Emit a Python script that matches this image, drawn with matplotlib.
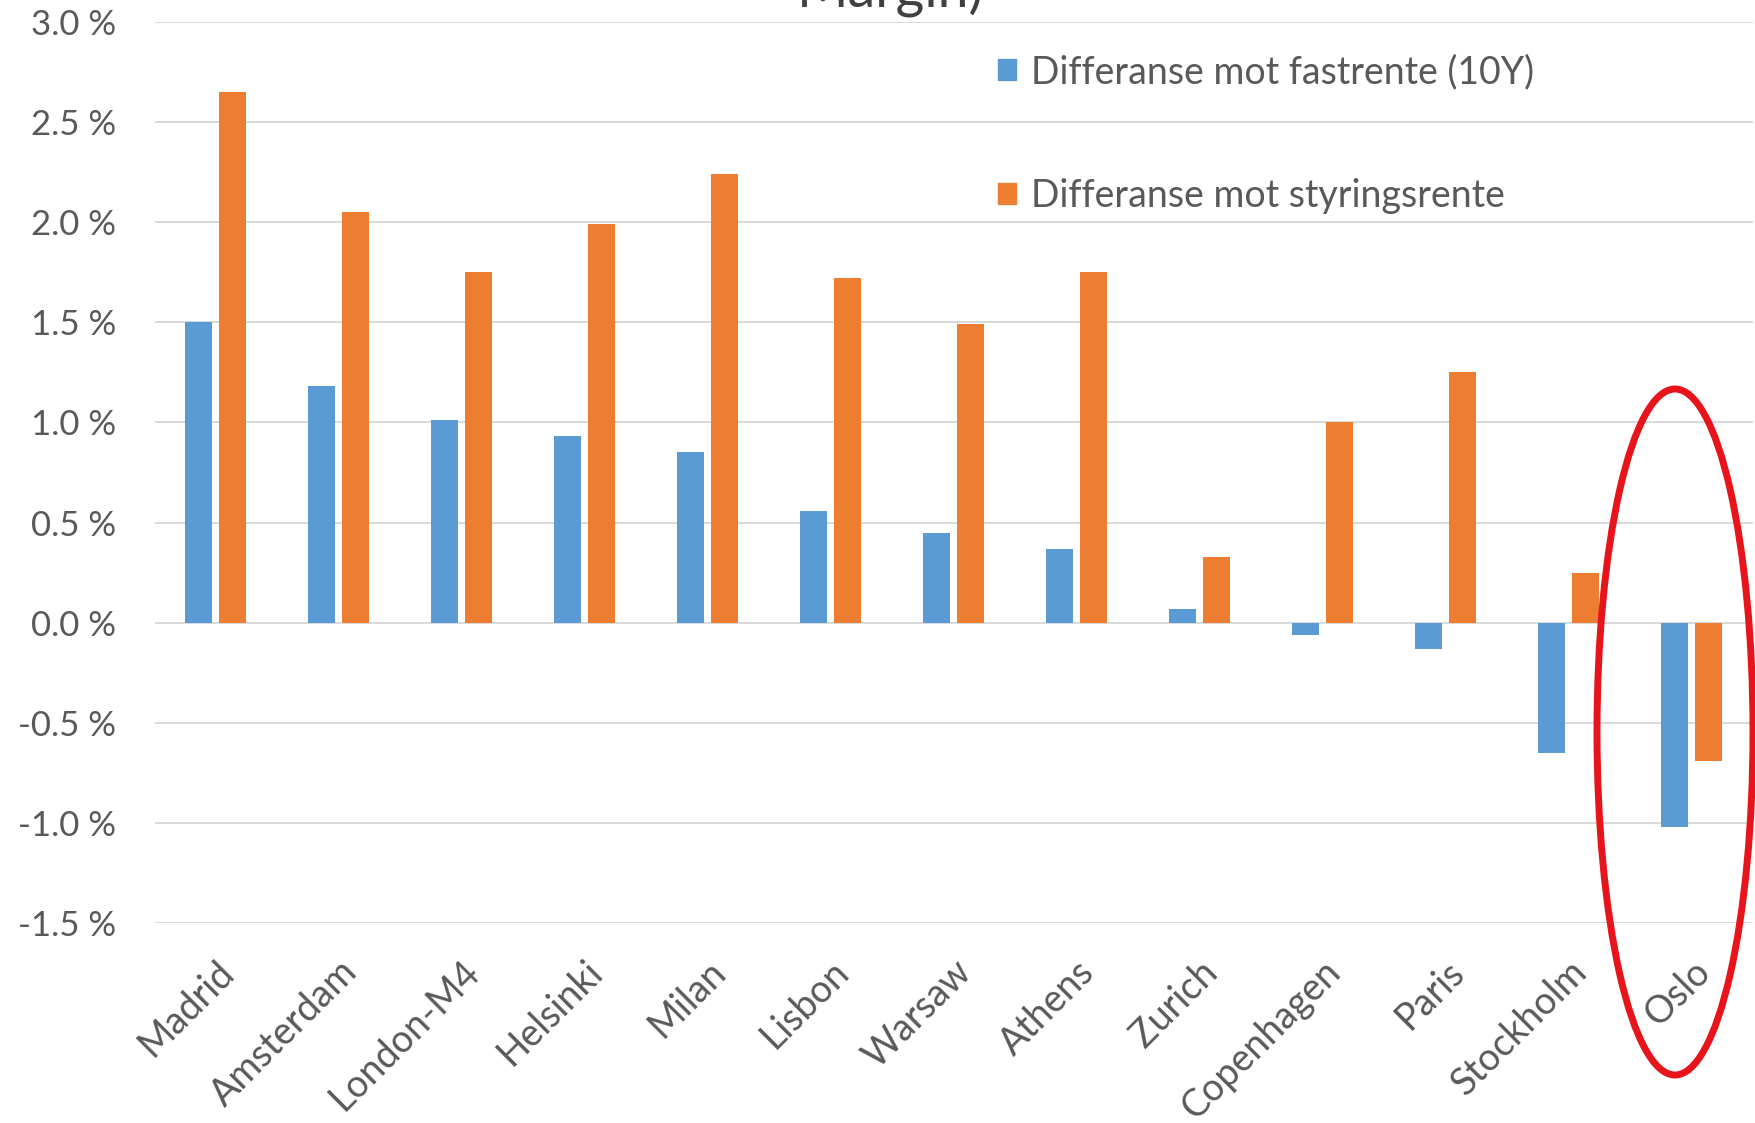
import matplotlib
matplotlib.use("Agg")
import matplotlib.pyplot as plt
import numpy as np
from matplotlib.patches import Ellipse, Patch
from matplotlib.ticker import FuncFormatter, MultipleLocator

cities = ["Madrid", "Amsterdam", "London-M4", "Helsinki", "Milan", "Lisbon",
          "Warsaw", "Athens", "Zurich", "Copenhagen", "Paris", "Stockholm", "Oslo"]
diff_fixed_10y = [1.50, 1.18, 1.01, 0.93, 0.85, 0.56, 0.45, 0.37, 0.07, -0.06, -0.13, -0.65, -1.02]
diff_policy = [2.65, 2.05, 1.75, 1.99, 2.24, 1.72, 1.49, 1.75, 0.33, 1.00, 1.25, 0.25, -0.69]
series_labels = ["Differanse mot fastrente (10Y)", "Differanse mot styringsrente"]
title_fragment = "Margin)"

BLUE = "#5B9BD5"
ORANGE = "#ED7D31"
GRID = "#D9D9D9"
TXT = "#595959"
FONT = "Lato"

plt.rcParams["font.family"] = [FONT, "DejaVu Sans"]

W, H = 1755, 1123
fig = plt.figure(figsize=(W / 100, H / 100), dpi=100)
ax = fig.add_axes([155 / W, (H - 923) / H, (1753 - 155) / W, 901 / H])

x = np.arange(len(cities))
bw = 0.22
off = 0.14
ax.bar(x - off, diff_fixed_10y, width=bw, color=BLUE, zorder=3, label=series_labels[0])
ax.bar(x + off, diff_policy, width=bw, color=ORANGE, zorder=3, label=series_labels[1])

ax.set_xlim(-0.49, 12.5)
ax.set_ylim(-1.5, 3.0)
ax.yaxis.set_major_locator(MultipleLocator(0.5))
ax.yaxis.set_major_formatter(FuncFormatter(lambda v, p: f"{v:.1f} %".replace("−", "-")))
ax.grid(axis="y", color=GRID, linewidth=1.4, zorder=0)
ax.set_axisbelow(True)
for s in ax.spines.values():
    s.set_visible(False)
ax.tick_params(axis="y", length=0, pad=28, labelsize=25, labelcolor=TXT)
ax.tick_params(axis="x", length=0, pad=22, labelsize=27, labelcolor=TXT)
ax.set_xticks(x)
ax.set_xticklabels(cities, rotation=45, ha="right", va="top", rotation_mode="anchor")

handles = [Patch(color=BLUE), Patch(color=ORANGE)]
fig.legend(handles, series_labels, loc="upper left",
           bbox_to_anchor=(998 / W, 1 - 54 / H), frameon=False,
           fontsize=27, labelcolor=TXT, handlelength=0.48, handleheight=0.48,
           handletextpad=0.4, labelspacing=2.35, borderpad=0, borderaxespad=0)

fig.text(890 / W, 1 - 7 / H, title_fragment, ha="center", va="baseline",
         fontsize=40, color="#404040")

ell = Ellipse((1675 / W, 1 - 732 / H), 156 / W, 686 / H, transform=fig.transFigure,
              fill=False, edgecolor="#E8141B", linewidth=5, zorder=10)
fig.patches.append(ell)

fig.savefig("out.png", dpi=100, facecolor="white")
